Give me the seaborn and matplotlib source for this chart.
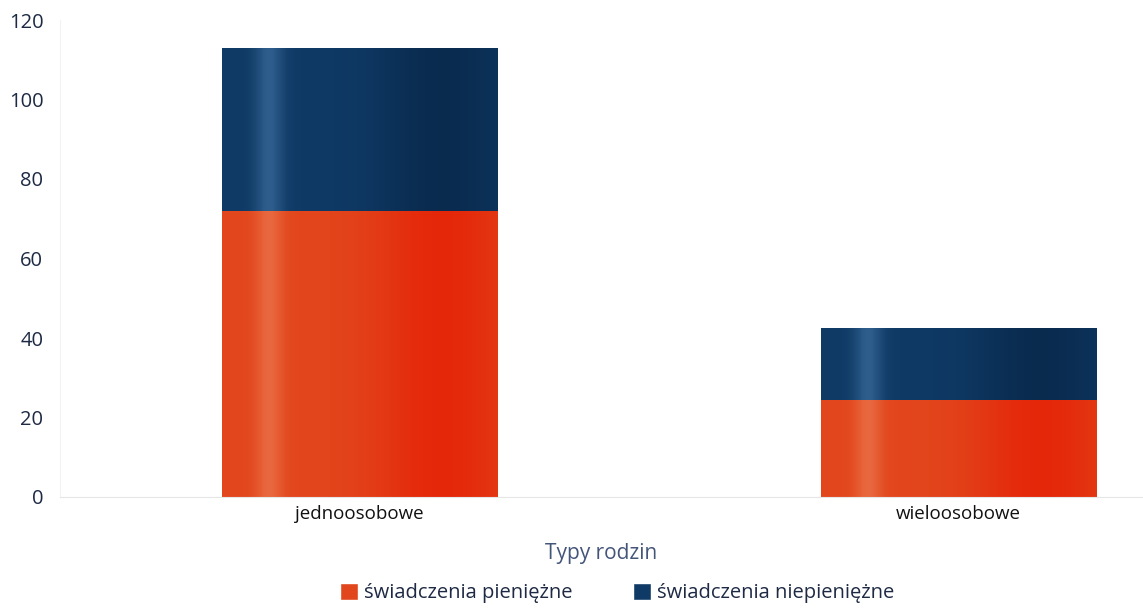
import pandas as pd
import numpy as np
import matplotlib.pyplot as plt
import matplotlib.colors as mcolors
import seaborn as sns
from matplotlib.patches import Patch

categories = ['jednoosobowe', 'wieloosobowe']
pieniezne = [72, 24.5]
niepieniezne = [41, 18]
series_names = ['świadczenia pieniężne', 'świadczenia niepieniężne']

orange = '#e2461c'
navy = '#0f3a66'

df = pd.DataFrame({'typ': categories, 'pien': pieniezne, 'niepien': niepieniezne})
df['total'] = df['pien'] + df['niepien']

sns.set_style('white')
plt.rcParams['font.family'] = ['Open Sans', 'DejaVu Sans']

fig = plt.figure(figsize=(11.43, 6.13), dpi=100)
ax = fig.add_axes([60 / 1143, 116 / 613, 1 - 60 / 1143, 477 / 613])

sns.barplot(data=df, x='typ', y='total', color=navy, width=0.46, ax=ax,
            saturation=1, linewidth=0, edgecolor='none')
sns.barplot(data=df, x='typ', y='pien', color=orange, width=0.46, ax=ax,
            saturation=1, linewidth=0, edgecolor='none')


def shading(base, light, dark, a_light, a_dark):
    # opaque gradient: light streak near the left, deeper tone towards the right
    t = np.linspace(0, 1, 300)
    hl = a_light * np.exp(-((t - 0.17) / 0.05) ** 2)
    dk = a_dark * np.exp(-((t - 0.8) / 0.24) ** 2)
    b = np.array(mcolors.to_rgb(base))
    lc, dc = np.array(mcolors.to_rgb(light)), np.array(mcolors.to_rgb(dark))
    col = b * (1 - hl[:, None]) + lc * hl[:, None]
    col = col * (1 - dk[:, None]) + dc * dk[:, None]
    return col[None, :, :]


shade_orange = shading(orange, '#f08a62', '#e61a02', 0.5, 0.7)
shade_navy = shading(navy, '#4f82b4', '#06213f', 0.5, 0.6)

for p in list(ax.patches):
    x0, y0 = p.get_x(), p.get_y()
    w, h = p.get_width(), p.get_height()
    is_orange = np.allclose(p.get_facecolor()[:3], mcolors.to_rgb(orange), atol=0.02)
    img = shade_orange if is_orange else shade_navy
    im = ax.imshow(img, extent=[x0, x0 + w, y0, y0 + h], aspect='auto',
                   interpolation='nearest', zorder=p.get_zorder() + 0.1)
    im.set_clip_path(p)

ax.set_xlim(-0.5, 1.308)
ax.set_ylim(0, 120)
ax.set_yticks([0, 20, 40, 60, 80, 100, 120])
ax.tick_params(axis='y', labelsize=14.5, labelcolor='#1e2a44', pad=12, length=0)
ax.tick_params(axis='x', labelsize=13.5, labelcolor='#111111', pad=6, length=0)
ax.set_xlabel('Typy rodzin', fontsize=15, color='#44557a', labelpad=14)
ax.set_ylabel('')

for s in ['top', 'right']:
    ax.spines[s].set_visible(False)
ax.spines['left'].set_color('#f2f2f2')
ax.spines['bottom'].set_color('#e6e6e6')

handles = [Patch(facecolor=orange, label=series_names[0]),
           Patch(facecolor=navy, label=series_names[1])]
fig.legend(handles=handles, loc='lower center', bbox_to_anchor=(0.54, -0.014), ncol=2,
           frameon=False, fontsize=14.5, handlelength=0.9, handleheight=0.9,
           handletextpad=0.3, columnspacing=3.0, labelcolor='#1e2a44')

fig.savefig('out.png', dpi=100)
